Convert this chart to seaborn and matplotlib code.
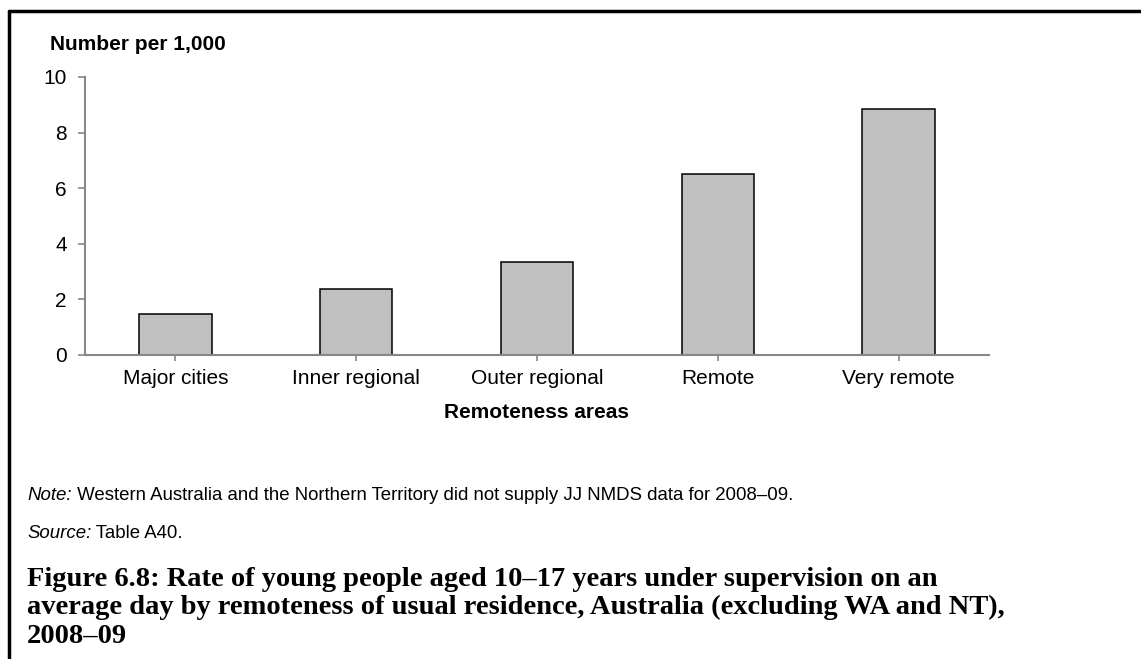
import numpy as np
import pandas as pd
import matplotlib
matplotlib.use("Agg")
import matplotlib.pyplot as plt
from matplotlib.lines import Line2D
import seaborn as sns

# data
areas = ["Major cities", "Inner regional", "Outer regional", "Remote", "Very remote"]
rates = [1.46, 2.37, 3.33, 6.52, 8.84]
y_ticks = [0, 2, 4, 6, 8, 10]

y_title = "Number per 1,000"
x_title = "Remoteness areas"
note_lead = "Note:"
note_text = " Western Australia and the Northern Territory did not supply JJ NMDS data for 2008\u201309."
source_lead = "Source:"
source_text = " Table A40."
caption = ("Figure 6.8: Rate of young people aged 10\u201317 years under supervision on an\n"
           "average day by remoteness of usual residence, Australia (excluding WA and NT),\n"
           "2008\u201309")

df = pd.DataFrame({"area": areas, "rate": rates})

sns.set_style("white")
plt.rcParams["font.family"] = ["Liberation Sans", "DejaVu Sans"]
plt.rcParams["text.color"] = "black"
plt.rcParams["xtick.labelcolor"] = "black"
plt.rcParams["ytick.labelcolor"] = "black"

W, H = 1141, 659
fig = plt.figure(figsize=(W / 100, H / 100), dpi=100)

# axes box in pixels: x 85..989, y 77..355
ax = fig.add_axes([85 / W, 1 - 355 / H, (989 - 85) / W, (355 - 77) / H])

sns.barplot(data=df, x="area", y="rate", color="#c0c0c0", edgecolor="black",
            linewidth=1.1, width=0.4, saturation=1, ax=ax)

grey = "#878787"
ax.set_xlim(-0.5, len(areas) - 0.5)
ax.set_ylim(0, 10)
ax.set_yticks(y_ticks)
ax.set_xlabel("")
ax.set_ylabel("")
for s in ["top", "right"]:
    ax.spines[s].set_visible(False)
for s in ["left", "bottom"]:
    ax.spines[s].set_color(grey)
    ax.spines[s].set_linewidth(1.5)
ax.tick_params(axis="y", direction="out", length=5, width=1.2, color=grey,
               labelsize=15, pad=8, left=True, labelcolor="black")
ax.tick_params(axis="x", direction="out", length=4, width=1.2, color=grey,
               labelsize=15, pad=6, bottom=True, labelcolor="black")

# axis titles
fig.text(50 / W, 1 - 45 / H, y_title, fontsize=15, fontweight="bold",
         ha="left", va="center")
fig.text(537 / W, 1 - 413 / H, x_title, fontsize=15, fontweight="bold",
         ha="center", va="center")

# note and source lines
n1 = fig.text(27 / W, 1 - 495 / H, note_lead, fontsize=13.4, style="italic",
              ha="left", va="center")
ax.annotate(note_text, xy=(1, 0.5), xycoords=n1, fontsize=13.4,
            ha="left", va="center", annotation_clip=False)
s1 = fig.text(27 / W, 1 - 533 / H, source_lead, fontsize=13.4, style="italic",
              ha="left", va="center")
ax.annotate(source_text, xy=(1, 0.5), xycoords=s1, fontsize=13.4,
            ha="left", va="center", annotation_clip=False)

# caption in bold serif
fig.text(27 / W, 1 - 567 / H, caption, fontsize=20.5, fontweight="bold",
         family=["Liberation Serif", "DejaVu Serif"], ha="left", va="top",
         linespacing=1.17)

# frame on the left and top edge of the picture
fig.add_artist(Line2D([9 / W, 9 / W], [0, 1 - 11 / H], transform=fig.transFigure,
                      color="black", linewidth=2.5))
fig.add_artist(Line2D([9 / W, 1], [1 - 11 / H, 1 - 11 / H], transform=fig.transFigure,
                      color="black", linewidth=2.5))

fig.savefig("out.png", dpi=100)
